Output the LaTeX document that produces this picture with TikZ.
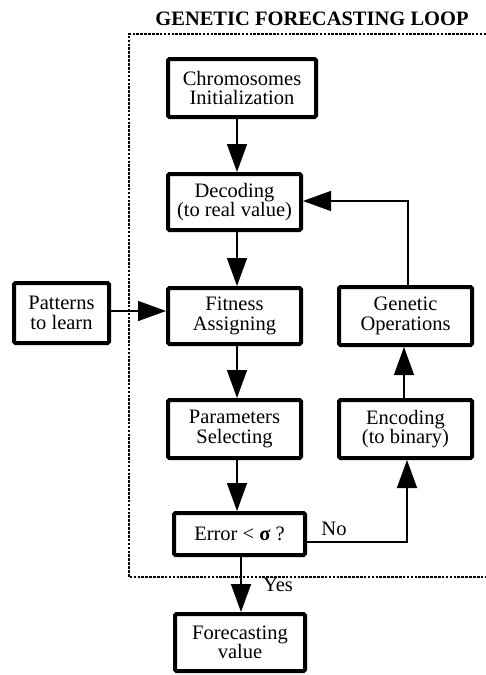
\documentclass[tikz,border=0pt]{standalone}
\usepackage{fontspec}
\setmainfont{Liberation Serif}
\usetikzlibrary{arrows.meta}
\begin{document}
\begin{tikzpicture}[x=1pt,y=-1pt,
  box/.style={draw=black,line width=4pt,rounded corners=1.5pt,fill=white,align=center,
    inner sep=0pt,font=\fontsize{20.5}{19.5}\selectfont},
  arr/.style={line width=1.5pt,-{Triangle[length=28pt,width=20pt]}},
  conn/.style={line width=1.5pt},
  lbl/.style={font=\fontsize{20.5}{20}\selectfont,inner sep=0pt},
  loop/.style={line width=1.5pt,dash pattern=on 2.6pt off 1.3pt}]
\useasboundingbox (0,0) rectangle (485,675);
% title
\node[font=\fontsize{20.5}{22}\selectfont\bfseries,inner sep=0pt] (title) at (312,19) {GENETIC FORECASTING LOOP};
% dotted loop frame (right side runs off the picture)
\coordinate (lt) at (129,34);
\coordinate (rt) at (490,34);
\coordinate (lb) at (129,577);
\coordinate (rb) at (490,577);
\draw[loop] (rt) -- (lt) -- (lb) -- (rb);
% nodes
\node[box,minimum width=148pt,minimum height=58pt] (chrom) at (242,88) {Chromosomes\\Initialization};
\node[box,minimum width=133pt,minimum height=56pt] (decode) at (234.5,202) {Decoding\\(to real value)};
\node[box,minimum width=133pt,minimum height=56pt] (fit) at (234.5,316) {Fitness\\Assigning};
\node[box,minimum width=133pt,minimum height=58pt] (params) at (234.5,429) {Parameters\\Selecting};
\node[box,minimum width=133pt,minimum height=58pt] (genop) at (405.5,316) {Genetic\\Operations};
\node[box,minimum width=133pt,minimum height=58pt] (enc) at (405.5,429) {Encoding\\(to binary)};
\node[box,minimum width=131pt,minimum height=42pt] (error) at (239.5,534) {Error < \textbf{σ} ?};
\node[box,minimum width=130pt,minimum height=57pt] (fore) at (240,642.5) {Forecasting\\value};
\node[box,minimum width=95pt,minimum height=60pt] (pat) at (61.5,313) {Patterns\\to learn};
% connector guide coordinates
\coordinate (ax) at (237,0);
\coordinate (bx) at (241,0);
\coordinate (gx) at (408,0);
\coordinate (ex) at (404,0);
\coordinate (nx) at (407,0);
\coordinate (dy) at (0,201);
\coordinate (py) at (0,311);
\coordinate (ny) at (0,542);
\coordinate (c1) at (gx |- dy);
\coordinate (c2) at (nx |- ny);
% connectors
\draw[arr] (chrom.south -| ax) -- (decode.north -| ax);
\draw[arr] (decode.south -| ax) -- (fit.north -| ax);
\draw[arr] (fit.south -| ax) -- (params.north -| ax);
\draw[arr] (params.south -| ax) -- (error.north -| ax);
\draw[arr] (error.south -| bx) -- (fore.north -| bx);
\draw[arr] (pat.east |- py) -- (fit.west |- py);
\draw[arr] (genop.north -| gx) -- (c1) -- (decode.east |- dy);
\draw[arr] (enc.north -| ex) -- (genop.south -| ex);
\draw[arr] (error.east |- ny) -- (c2) -- (enc.south -| nx);
% labels
\node[lbl] (no) at (334,529) {No};
\node[lbl] (yes) at (278,585) {Yes};
\end{tikzpicture}
\end{document}
